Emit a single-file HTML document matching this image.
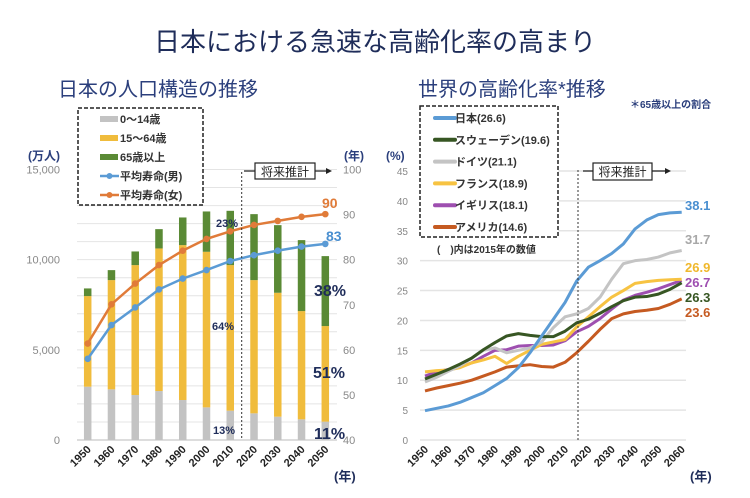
<!DOCTYPE html>
<html><head><meta charset="utf-8"><style>
body{margin:0;background:#fff;}
svg{display:block;font-family:"Liberation Sans","Noto Sans CJK JP",sans-serif;}
</style></head><body>
<svg id="s" width="750" height="498" viewBox="0 0 750 498">
<text x="375" y="51" text-anchor="middle" font-size="26" fill="#1f2d5a">日本における急速な高齢化率の高まり</text>
<text x="58" y="96" font-size="20" fill="#2b3f7c">日本の人口構造の推移</text>
<text x="418" y="96" font-size="20" fill="#2b3f7c">世界の高齢化率*推移</text>
<text x="630" y="108" font-size="10" font-weight="bold" fill="#2b3f7c">＊65歳以上の割合</text>
<g id="L"></g>
<g id="R"></g>
</svg>
<script>
const NS="http://www.w3.org/2000/svg";
function mk(p,t,a,txt){const e=document.createElementNS(NS,t);for(const k in a)e.setAttribute(k,a[k]);if(txt!=null)e.textContent=txt;p.appendChild(e);return e;}
// ---- Left chart data ----
const years=[1950,1960,1970,1980,1990,2000,2010,2020,2030,2040,2050];
const pop0_14=[2956,2808,2494,2716,2217,1810,1626,1478,1293,1145,1016];
const pop15_64=[5024,6059,7204,7906,8590,8627,8072,7389,6872,6004,5302];
const pop65=[425,553,757,1071,1533,2236,3011,3658,3750,3935,3879];
const lifeMale=[58.0,65.5,69.4,73.4,75.8,77.7,79.7,81.0,82.0,82.9,83.5];
const lifeFemale=[61.4,70.1,74.7,78.8,82.0,84.6,86.3,87.7,88.6,89.5,90.1];
const leftTicks=["0","5,000","10,000","15,000"];
const rightTicks=[40,50,60,70,80,90,100];

const L=document.getElementById('L');
const lx=i=>87.7+i*23.76;
const ly=v=>440-v*(270.5/15000);
const ry=v=>440-(v-40)*(270.5/60);
for(let g=1000;g<=15000;g+=1000){const l=mk(L,'line',{x1:77,x2:337,y1:ly(g),y2:ly(g),stroke:'#e4e4e4','stroke-width':1});
}
mk(L,'line',{x1:77,x2:337,y1:440,y2:440,stroke:'#bbb'});
leftTicks.forEach((t,i)=>{const e=mk(L,'text',{x:60,y:ly(i*5000)+4,'text-anchor':'end','font-size':11,fill:'#888'},t);
});
rightTicks.forEach(t=>{const e=mk(L,'text',{x:343,y:ry(t)+4,'font-size':11,fill:'#888'},t);
});
mk(L,'text',{x:28,y:160,'font-size':12,'font-weight':'bold',fill:'#2b3f7c'},'(万人)');
mk(L,'text',{x:344,y:160,'font-size':12,'font-weight':'bold',fill:'#2b3f7c'},'(年)');
mk(L,'text',{x:334,y:481,'font-size':13,'font-weight':'bold',fill:'#1f2d5a'},'(年)');
years.forEach((y,i)=>{
 const x=lx(i),w=7.5;
 const b0=mk(L,'rect',{x:x-w/2,y:ly(pop0_14[i]),width:w,height:440-ly(pop0_14[i]),fill:'#c3c3c3'});
 
 const t1=pop0_14[i]+pop15_64[i];
 const b1=mk(L,'rect',{x:x-w/2,y:ly(t1),width:w,height:ly(pop0_14[i])-ly(t1),fill:'#f0bc3c'});
 
 const t2=t1+pop65[i];
 const b2=mk(L,'rect',{x:x-w/2,y:ly(t2),width:w,height:ly(t1)-ly(t2),fill:'#5a8a35'});
 
 const tl=mk(L,'text',{x:x+4,y:450,'text-anchor':'end','font-size':11,'font-weight':'bold',fill:'#222',transform:`rotate(-45 ${x+4} 450)`},y);
 
});
function lifeLine(arr,col,name){
 const p=mk(L,'polyline',{points:arr.map((v,i)=>lx(i)+','+ry(v)).join(' '),fill:'none',stroke:col,'stroke-width':2.5});
 
 arr.forEach((v,i)=>{const c=mk(L,'circle',{cx:lx(i),cy:ry(v),r:3.3,fill:col});
 });
}
lifeLine(lifeFemale,'#e07b39','life-female-line');
lifeLine(lifeMale,'#5b9bd5','life-male-line');
mk(L,'line',{x1:241.7,x2:241.7,y1:172,y2:440,stroke:'#333','stroke-dasharray':'2,2'});
mk(L,'line',{x1:244,x2:328,y1:171,y2:171,stroke:'#222','stroke-width':1.2});
mk(L,'path',{d:'M326,168 L332,171 L326,174Z',fill:'#222'});
mk(L,'rect',{x:255,y:163,width:60,height:16,fill:'#fff',stroke:'#222','stroke-width':1.2});
mk(L,'text',{x:285,y:176,'text-anchor':'middle','font-size':12,fill:'#222'},'将来推計');
[['23%',216,227,11],['64%',212,330,11],['13%',213,434,11]].forEach(a=>mk(L,'text',{x:a[1],y:a[2],'font-size':a[3],'font-weight':'bold',fill:'#1f2d5a'},a[0]));
[['38%',314,296],['51%',313,378],['11%',314,439]].forEach(a=>mk(L,'text',{x:a[1],y:a[2],'font-size':16,'font-weight':'bold',fill:'#1f2d5a'},a[0]));
mk(L,'text',{x:322,y:208,'font-size':14,'font-weight':'bold',fill:'#e07b39'},'90');
mk(L,'text',{x:326,y:241,'font-size':14,'font-weight':'bold',fill:'#4a8fd0'},'83');
// left legend
mk(L,'rect',{x:78,y:108,width:125,height:97,fill:'#fff',stroke:'#222','stroke-width':1.5,'stroke-dasharray':'4,2'});
[['0～14歳','#c3c3c3','b'],['15～64歳','#f0bc3c','b'],['65歳以上','#5a8a35','b'],['平均寿命(男)','#5b9bd5','l'],['平均寿命(女)','#e07b39','l']].forEach((it,i)=>{
 const y=119+i*19;
 if(it[2]=='b')mk(L,'rect',{x:100,y:y-3,width:18,height:6,fill:it[1]});
 else{mk(L,'line',{x1:100,x2:119,y1:y,y2:y,stroke:it[1],'stroke-width':2.5});mk(L,'circle',{cx:109.5,cy:y,r:3,fill:it[1]});}
 const e=mk(L,'text',{x:120,y:y+4,'font-size':11,'font-weight':'bold',fill:'#333'},it[0]);
 
});
// ---- Right chart data ----
const wYears=[1950,1955,1960,1965,1970,1975,1980,1985,1990,1995,2000,2005,2010,2015,2020,2025,2030,2035,2040,2045,2050,2055,2060];
const japan=[4.9,5.3,5.7,6.3,7.1,7.9,9.1,10.3,12.1,14.6,17.4,20.2,23.0,26.6,28.9,30.0,31.2,32.8,35.3,36.8,37.7,38.0,38.1];
const sweden=[10.2,11.0,11.8,12.7,13.7,15.1,16.3,17.4,17.8,17.5,17.3,17.3,18.2,19.6,20.2,21.2,22.3,23.3,23.9,24.0,24.4,25.2,26.3];
const germany=[9.7,10.5,11.5,12.4,13.7,15.0,15.4,14.6,15.0,15.4,16.4,18.8,20.6,21.1,22.0,23.9,26.9,29.5,30.0,30.2,30.6,31.3,31.7];
const france=[11.4,11.6,11.7,12.1,12.9,13.4,14.0,12.8,14.0,15.0,16.0,16.4,16.8,18.9,20.6,22.3,23.9,25.0,26.2,26.5,26.7,26.8,26.9];
const uk=[10.7,11.4,11.8,12.2,12.9,14.0,15.0,15.1,15.7,15.8,15.8,15.9,16.6,18.1,19.0,20.3,21.9,23.4,24.2,24.7,25.3,26.0,26.7];
const usa=[8.2,8.7,9.1,9.5,10.0,10.7,11.4,12.2,12.4,12.6,12.3,12.2,13.0,14.6,16.5,18.5,20.3,21.1,21.5,21.7,22.0,22.7,23.6];
const pctTicks=[0,5,10,15,20,25,30,35,40,45];

const R=document.getElementById('R');
const wx=y=>425+(y-1950)*(256.7/110);
const wy=v=>440-v*(269/45);
pctTicks.forEach(t=>{
 if(t>0){const g=mk(R,'line',{x1:420,x2:686,y1:wy(t),y2:wy(t),stroke:'#e4e4e4','stroke-width':1.5});
 }
 const e=mk(R,'text',{x:408,y:wy(t)+4,'text-anchor':'end','font-size':10,fill:'#888'},t);
 
});
mk(R,'line',{x1:420,x2:686,y1:440,y2:440,stroke:'#e4e4e4','stroke-width':1.5});
mk(R,'text',{x:386,y:160,'font-size':12,'font-weight':'bold',fill:'#2b3f7c'},'(%)');
mk(R,'text',{x:690,y:481,'font-size':13,'font-weight':'bold',fill:'#1f2d5a'},'(年)');
wYears.forEach(y=>{if(y%10)return;const x=wx(y);
 const e=mk(R,'text',{x:x+4,y:450,'text-anchor':'end','font-size':11,'font-weight':'bold',fill:'#222',transform:`rotate(-45 ${x+4} 450)`},y);
 });
const series=[[usa,'#c55a21','usa'],[uk,'#9e4fb0','uk'],[france,'#f7c342','france'],[germany,'#c4c4c4','germany'],[sweden,'#375623','sweden'],[japan,'#5b9bd5','japan']];
series.forEach(s=>{const p=mk(R,'polyline',{points:s[0].map((v,i)=>wx(wYears[i])+','+wy(v)).join(' '),fill:'none',stroke:s[1],'stroke-width':3,'stroke-linejoin':'round'});
 });
mk(R,'line',{x1:578,x2:578,y1:170,y2:440,stroke:'#333','stroke-dasharray':'2,2'});
mk(R,'line',{x1:583,x2:667,y1:171,y2:171,stroke:'#222','stroke-width':1.2});
mk(R,'path',{d:'M665,168 L671,171 L665,174Z',fill:'#222'});
mk(R,'rect',{x:593,y:163,width:59,height:17,fill:'#fff',stroke:'#222','stroke-width':1.2});
mk(R,'text',{x:622.5,y:176,'text-anchor':'middle','font-size':12,fill:'#222'},'将来推計');
[['38.1','#4a8fd0',210],['31.7','#a8a8a8',244],['26.9','#f0b82c',272],['26.7','#9e4fb0',287],['26.3','#375623',302],['23.6','#c55a21',317]].forEach(a=>{
 const e=mk(R,'text',{x:685,y:a[2],'font-size':13,'font-weight':'bold',fill:a[1]},a[0]);
 });
mk(R,'rect',{x:420,y:106,width:138,height:131,fill:'#fff',stroke:'#222','stroke-width':1.5,'stroke-dasharray':'4,2'});
[['日本(26.6)','#5b9bd5'],['スウェーデン(19.6)','#375623'],['ドイツ(21.1)','#c4c4c4'],['フランス(18.9)','#f7c342'],['イギリス(18.1)','#9e4fb0'],['アメリカ(14.6)','#c55a21']].forEach((it,i)=>{
 const y=118+i*21.8;
 mk(R,'line',{x1:435,x2:455,y1:y,y2:y,stroke:it[1],'stroke-width':4,'stroke-linecap':'round'});
 const e=mk(R,'text',{x:455,y:y+4,'font-size':11,'font-weight':'bold',fill:'#333'},it[0]);
 
});
mk(R,'text',{x:437,y:253,'font-size':10,'font-weight':'bold',fill:'#333'},'(　)内は2015年の数値');
</script>
</body></html>
